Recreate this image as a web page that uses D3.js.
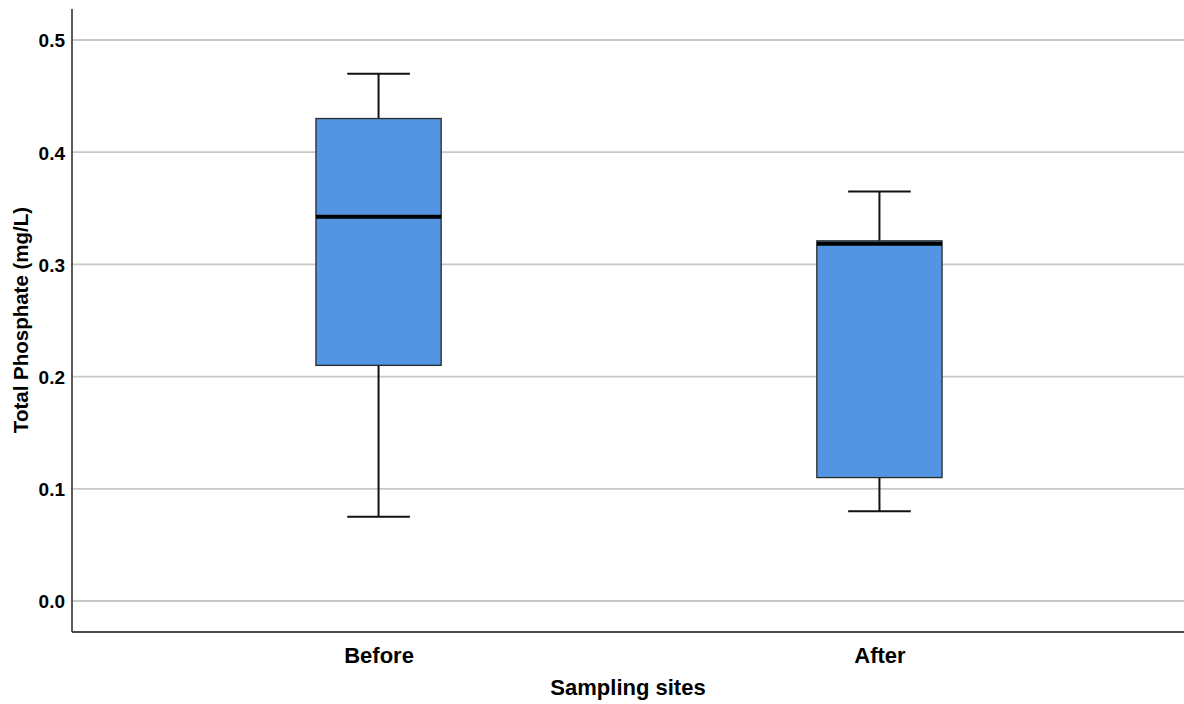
<!DOCTYPE html>
<html>
<head>
<meta charset="utf-8">
<script src="https://cdn.jsdelivr.net/npm/d3@7/dist/d3.min.js"></script>
<style>
  html, body { margin: 0; padding: 0; background: #fff; }
  svg { display: block; }
  text { font-family: "Liberation Sans", Arial, sans-serif; font-weight: bold; fill: #000; }
</style>
</head>
<body>
<svg id="chart" width="1184" height="704"></svg>
<script>
// ---- data ----
const categories = ["Before", "After"];
const whiskerLow  = [0.075, 0.080];
const q1          = [0.210, 0.110];
const median      = [0.3425, 0.3185];
const q3          = [0.430, 0.321];
const whiskerHigh = [0.470, 0.365];
const yTicks = [0.0, 0.1, 0.2, 0.3, 0.4, 0.5];
const yLabel = "Total Phosphate (mg/L)";
const xLabel = "Sampling sites";

// ---- layout ----
const plotLeft = 72, plotRight = 1184, plotTop = 9, plotBottom = 632;

const svg = d3.select("#chart");

const x = d3.scalePoint().domain(categories).range([plotLeft, 1186]).padding(0.612);
const y = d3.scaleLinear().domain([0, 0.5]).range([601, 40]);
const boxW = x.step() * 0.25;
const capW = boxW / 2;

// gridlines
svg.append("g").selectAll("line").data(yTicks).join("line")
  .attr("x1", plotLeft).attr("x2", plotRight)
  .attr("y1", d => y(d)).attr("y2", d => y(d))
  .attr("stroke", "#c8c8c8").attr("stroke-width", 1.8);

// y axis
const yAxis = d3.axisLeft(y).tickValues(yTicks).tickFormat(d3.format(".1f")).tickSize(0).tickPadding(7);
const ga = svg.append("g").attr("transform", `translate(${plotLeft},0)`).call(yAxis);
ga.select(".domain").remove();
ga.selectAll("text").attr("dy", "0.36em").style("font-size", "19px").style("font-family", "'Liberation Sans', Arial, sans-serif").style("font-weight", "bold").attr("fill", "#111");

// frame (left + bottom axis lines)
svg.append("line").attr("x1", plotLeft).attr("x2", plotLeft).attr("y1", plotTop).attr("y2", plotBottom)
  .attr("stroke", "#4a4a4a").attr("stroke-width", 1.8);
svg.append("line").attr("x1", plotLeft).attr("x2", plotRight).attr("y1", plotBottom).attr("y2", plotBottom)
  .attr("stroke", "#4a4a4a").attr("stroke-width", 1.8);

// x axis labels
const xAxis = d3.axisBottom(x).tickSize(0).tickPadding(0);
const gx = svg.append("g").attr("transform", `translate(0,${plotBottom})`).call(xAxis);
gx.select(".domain").remove();
gx.selectAll("text").attr("dy", null).attr("y", 31)
  .style("font-size", "22px").style("font-family", "'Liberation Sans', Arial, sans-serif").style("font-weight", "bold").attr("fill", "#111");

// boxes
const data = categories.map((c, i) => ({
  c, lo: whiskerLow[i], q1: q1[i], med: median[i], q3: q3[i], hi: whiskerHigh[i]
}));
const g = svg.append("g").selectAll("g").data(data).join("g");

// whiskers
g.append("line").attr("x1", d => x(d.c)).attr("x2", d => x(d.c))
  .attr("y1", d => y(d.hi)).attr("y2", d => y(d.q3))
  .attr("stroke", "#111").attr("stroke-width", 2);
g.append("line").attr("x1", d => x(d.c)).attr("x2", d => x(d.c))
  .attr("y1", d => y(d.q1)).attr("y2", d => y(d.lo))
  .attr("stroke", "#111").attr("stroke-width", 2);
// caps
g.append("line").attr("x1", d => x(d.c) - capW / 2).attr("x2", d => x(d.c) + capW / 2)
  .attr("y1", d => y(d.hi)).attr("y2", d => y(d.hi))
  .attr("stroke", "#111").attr("stroke-width", 2);
g.append("line").attr("x1", d => x(d.c) - capW / 2).attr("x2", d => x(d.c) + capW / 2)
  .attr("y1", d => y(d.lo)).attr("y2", d => y(d.lo))
  .attr("stroke", "#111").attr("stroke-width", 2);
// box
g.append("rect").attr("x", d => x(d.c) - boxW / 2).attr("width", boxW)
  .attr("y", d => y(d.q3)).attr("height", d => y(d.q1) - y(d.q3))
  .attr("fill", "#5395e3").attr("stroke", "#2a2a2a").attr("stroke-width", 1.3);
// median
g.append("line").attr("x1", d => x(d.c) - boxW / 2).attr("x2", d => x(d.c) + boxW / 2)
  .attr("y1", d => y(d.med)).attr("y2", d => y(d.med))
  .attr("stroke", "#000").attr("stroke-width", 4);

// axis titles
svg.append("text").attr("x", (plotLeft + plotRight) / 2).attr("y", 695)
  .attr("text-anchor", "middle").style("font-size", "22px").attr("fill", "#111").text(xLabel);
svg.append("text").attr("transform", `translate(28,320) rotate(-90)`)
  .attr("text-anchor", "middle").style("font-size", "20.5px").attr("fill", "#111").text(yLabel);
</script>
</body>
</html>
